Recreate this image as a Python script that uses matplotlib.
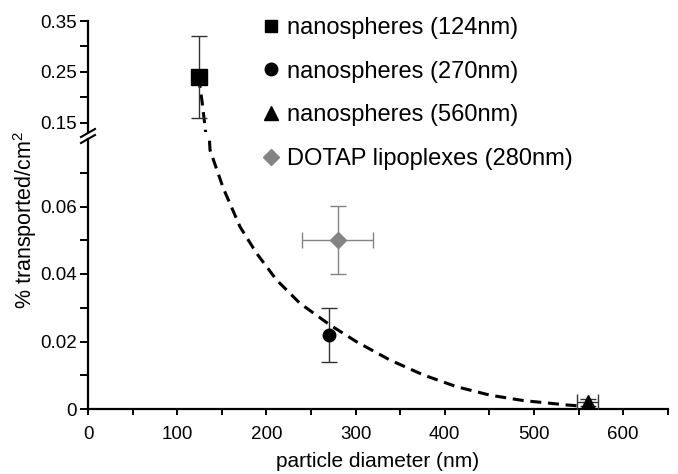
import matplotlib
matplotlib.use('Agg')
import matplotlib.pyplot as plt
from matplotlib.lines import Line2D
from matplotlib.ticker import FixedLocator, FuncFormatter

plt.rcParams['font.family'] = ['Liberation Sans', 'DejaVu Sans']
plt.rcParams['mathtext.fontset'] = 'custom'
plt.rcParams['mathtext.rm'] = 'Liberation Sans'
plt.rcParams['mathtext.it'] = 'Liberation Sans:italic'

# ---- data ----
series_labels = ['nanospheres (124nm)', 'nanospheres (270nm)',
                 'nanospheres (560nm)', 'DOTAP lipoplexes (280nm)']
x_vals = [124, 270, 560, 280]
y_vals = [0.240, 0.022, 0.002, 0.050]
y_errs = [0.080, 0.008, 0.001, 0.010]
x_errs = [None, None, 12, 40]

# dashed trend curve
fit_x = [124, 126, 128, 130, 132, 134, 136.8, 151.7, 170.4, 189.1, 211.5,
         237.7, 271.3, 301.2, 338.6, 375.9, 413.3, 450.7, 488, 536.7, 556]
fit_y = [0.240, 0.215, 0.190, 0.160, 0.130, 0.090, 0.0767, 0.0654, 0.054,
         0.0461, 0.0382, 0.0313, 0.0249, 0.0199, 0.0145, 0.0101, 0.0066,
         0.0041, 0.0025, 0.0012, 0.0008]

x_ticks = [0, 100, 200, 300, 400, 500, 600]
y_ticks_low = [0, 0.02, 0.04, 0.06]
y_ticks_high = [0.15, 0.25, 0.35]

# ---- styles ----
markers = ['s', 'o', '^', 'D']
msizes = [11, 9, 9.5, 8]
leg_sizes = [9, 9, 9.5, 8]
colors = ['black', 'black', 'black', '#848484']
ecolors = ['#333333', '#333333', '#333333', '#848484']

W, H = 678, 474
fig = plt.figure(figsize=(W / 100, H / 100), dpi=100)
left, right = 88 / W, 667.8 / W
ax_lo = fig.add_axes([left, (H - 409) / H, right - left, (409 - 139) / H])
ax_hi = fig.add_axes([left, (H - 131.5) / H, right - left, (131.5 - 21) / H])

for ax in (ax_lo, ax_hi):
    ax.plot(fit_x, fit_y, color='black', lw=2.2, dashes=(3.6, 2.2), zorder=2)
    for i in range(len(x_vals)):
        ax.errorbar(x_vals[i], y_vals[i], yerr=y_errs[i], xerr=x_errs[i],
                    fmt=markers[i], ms=msizes[i], color=colors[i],
                    mec=colors[i], ecolor=ecolors[i], elinewidth=1.0,
                    capsize=6, capthick=1.0, zorder=3)
    ax.set_xlim(0, 650)
    ax.spines['top'].set_visible(False)
    ax.spines['right'].set_visible(False)
    ax.spines['left'].set_linewidth(1.6)
    ax.spines['bottom'].set_linewidth(1.6)
    ax.tick_params(axis='y', which='both', direction='out', length=6,
                   width=1.4, labelsize=13.5, pad=2)

ax_lo.set_ylim(0, 0.08)
ax_hi.set_ylim(0.133, 0.35)

# lower axes ticks
ax_lo.yaxis.set_major_locator(FixedLocator(y_ticks_low))
ax_lo.yaxis.set_minor_locator(FixedLocator([0.01, 0.03, 0.05, 0.07]))
ax_lo.yaxis.set_major_formatter(FuncFormatter(lambda v, p: '0' if v == 0 else f'{v:.2f}'))
ax_lo.xaxis.set_major_locator(FixedLocator(x_ticks))
ax_lo.xaxis.set_minor_locator(FixedLocator([50, 150, 250, 350, 450, 550, 650]))
ax_lo.tick_params(axis='x', which='both', direction='out', length=4,
                  width=1.4, labelsize=13.5, pad=8)
ax_lo.set_xlabel('particle diameter (nm)', fontsize=15, labelpad=7)

# upper axes ticks
ax_hi.spines['bottom'].set_visible(False)
ax_hi.set_xticks([])
ax_hi.yaxis.set_major_locator(FixedLocator(y_ticks_high))
ax_hi.yaxis.set_minor_locator(FixedLocator([0.20, 0.30]))
ax_hi.yaxis.set_major_formatter(FuncFormatter(lambda v, p: f'{v:.2f}'))

fig.text(25 / W, 1 - 220 / H, r'% transported/cm$^2$', rotation=90,
         ha='center', va='center', fontsize=15.5)

# axis break marks
for yb in (143, 137):
    fig.add_artist(Line2D([81 / W, 95 / W], [1 - yb / H, 1 - (yb - 8) / H],
                          color='black', lw=1.5))

# legend
handles = [Line2D([], [], ls='none', marker=markers[i], ms=leg_sizes[i],
                  color=colors[i], mec=colors[i]) for i in range(4)]
fig.legend(handles, series_labels, loc='upper left',
           bbox_to_anchor=(261.5 / W, 1 - 17 / H), frameon=False,
           fontsize=17, handlelength=0.8, handletextpad=0.3,
           labelspacing=0.92, borderaxespad=0, borderpad=0)

fig.savefig('out.png', dpi=100)
